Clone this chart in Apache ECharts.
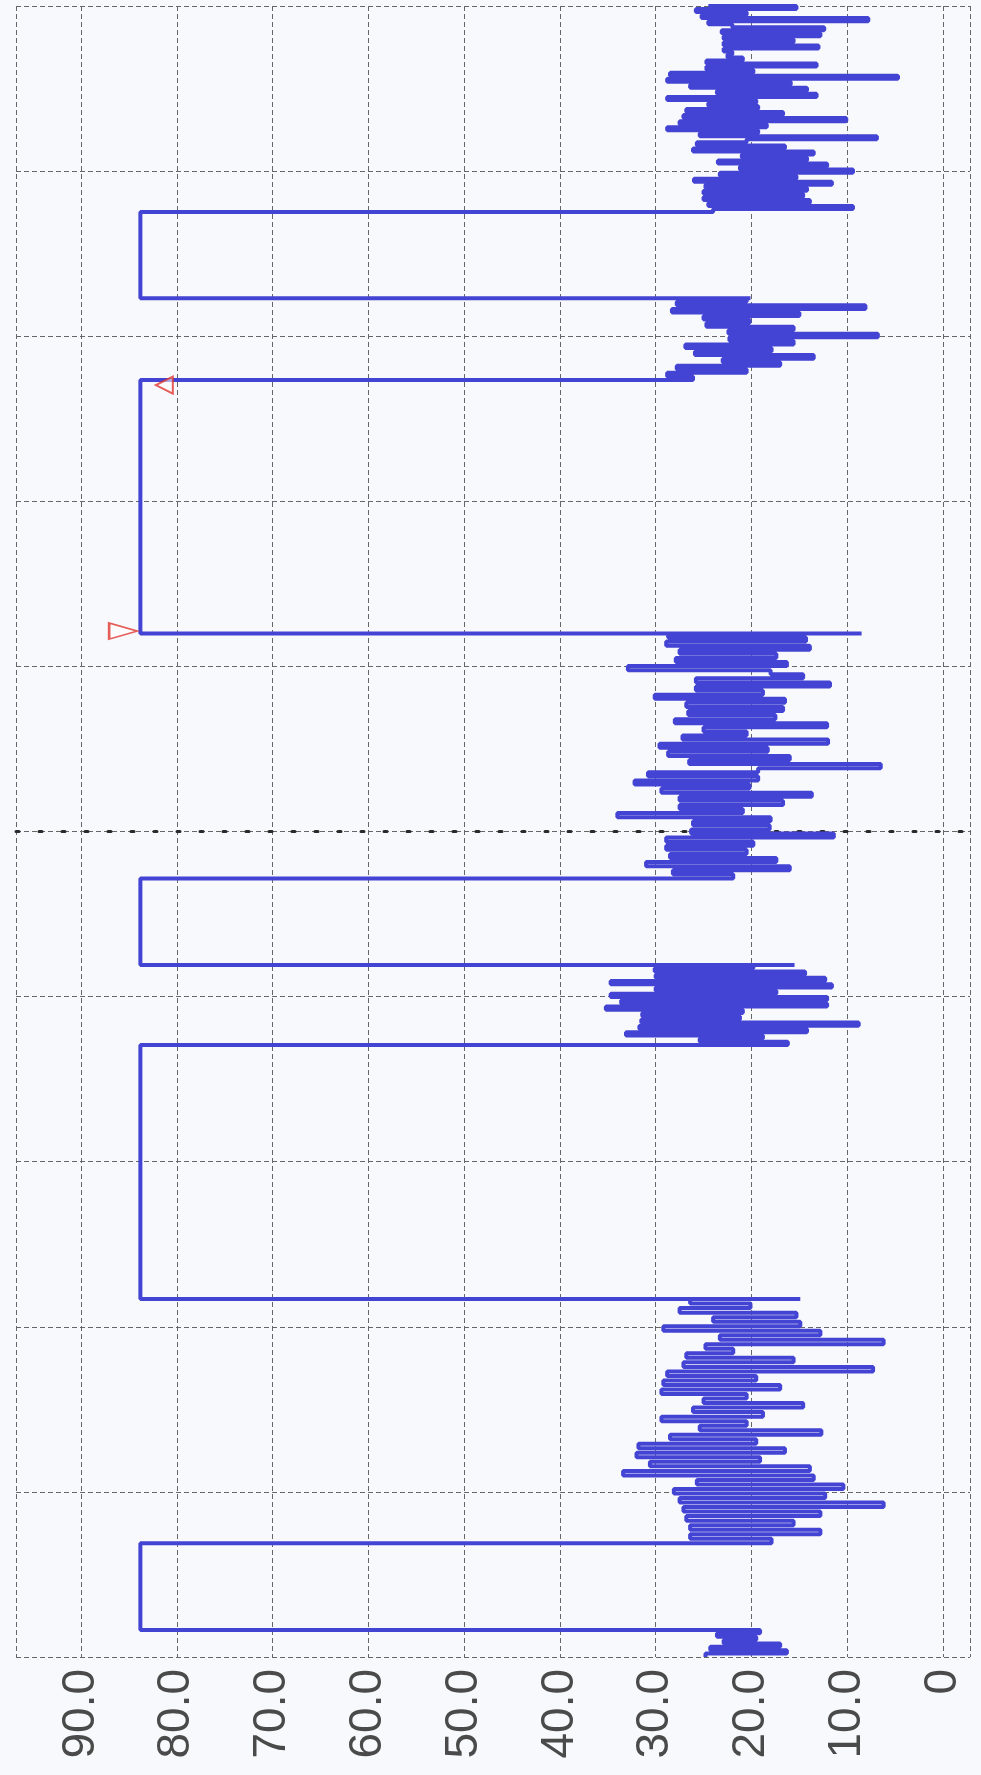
<!DOCTYPE html>
<html>
<head>
<meta charset="utf-8">
<script src="https://cdn.jsdelivr.net/npm/echarts@6/dist/echarts.min.js"></script>
<style>
  html, body { margin: 0; padding: 0; background: #f8f9fc; }
  #chart { width: 981px; height: 1775px; }
</style>
</head>
<body>
<div id="chart"></div>
<script>
// Value axis ticks and their printed labels
const tickValues = [0, 10, 20, 30, 40, 50, 60, 70, 80, 90];
const tickLabels = ['0', '10.0', '20.0', '30.0', '40.0', '50.0', '60.0', '70.0', '80.0', '90.0'];

// Record runs over 0 … 1000 time units; bursts of fluctuation alternate with held levels
const burstStart = [0, 68.9, 370.7, 471.6, 773.5, 875.2];
const burstEnd   = [16.4, 216.8, 419.1, 620.0, 823.0, 1000];
const holdLevel  = [83.8, 83.8, 83.8, 83.8, 83.8];

// Samples inside each burst, in time order
const burst0 = [24.8, 16.3, 24.3, 17.0, 22.9, 19.5, 23.6, 19.1, 25.7];
const burst1 = [17.9, 26.4, 12.8, 26.4, 15.6, 26.8, 12.8, 27.1, 6.2, 27.5, 12.3, 28.1, 10.4, 25.7, 13.5,
                33.4, 13.9, 30.6, 19.1, 32.0, 16.5, 31.8, 19.5, 28.5, 12.7, 25.4, 20.5, 29.4, 18.8, 26.1,
                14.6, 25.0, 20.5, 29.4, 17.0, 29.2, 19.5, 28.8, 7.3, 27.1, 15.6, 26.8, 21.9, 24.8, 6.2,
                23.3, 12.8, 29.2, 14.9, 24.0, 15.3, 27.5, 20.1, 26.4, 14.9];
const burst2 = [16.2, 25.4, 18.8, 33.1, 14.2, 31.7, 8.8, 31.5, 21.2, 31.4, 20.9, 35.2, 12.1, 33.6, 12.1,
                34.7, 17.4, 30.0, 11.6, 34.7, 12.3, 30.0, 14.4, 30.1, 19.8, 15.5];
const burst3 = [21.9, 28.2, 16.0, 31.0, 17.4, 28.5, 20.5, 28.9, 19.8, 28.9, 11.4, 26.3, 18.1, 26.1, 18.0,
                34.0, 20.9, 27.5, 16.7, 27.5, 13.7, 29.4, 20.2, 32.2, 19.3, 30.8, 19.3, 6.5, 26.5, 16.0,
                28.7, 18.3, 29.6, 12.0, 27.2, 20.5, 25.0, 12.1, 28.0, 17.5, 26.6, 16.7, 26.8, 16.5, 30.1,
                18.8, 25.8, 11.8, 25.8, 14.6, 18.0, 32.9, 16.3, 27.9, 17.4, 27.5, 13.9, 28.9, 14.3, 28.7, 8.5];
const burst4 = [26.1, 28.8, 20.5, 27.8, 17.0, 23.0, 13.5, 25.9, 17.9, 26.9, 15.6, 22.3, 6.8, 22.4, 15.6,
                24.7, 20.2, 25.0, 15.0, 28.3, 8.1, 27.8, 20.5, 20.1];
const burst5 = [24.0, 9.4, 24.5, 13.9, 25.0, 14.6, 25.0, 14.2, 24.8, 11.6, 26.0, 15.3, 23.3, 9.4, 21.2,
                12.1, 23.5, 14.2, 21.0, 13.5, 26.1, 16.5, 25.7, 20.5, 6.9, 25.4, 19.3, 28.8, 18.4, 27.5,
                10.1, 27.1, 16.7, 26.8, 19.3, 24.5, 19.5, 28.8, 13.2, 23.6, 14.2, 26.4, 15.9, 28.8, 4.7,
                28.5, 19.8, 24.7, 13.2, 24.7, 20.9, 22.5, 22.0, 22.9, 13.0, 22.9, 15.6, 22.9, 12.8, 23.1,
                12.4, 22.0, 24.5, 7.8, 25.2, 20.5, 25.8, 15.3, 24.5];

// Red cursor markers at the ends of one held stretch
const markerLevels = [85.6, 81.3];
const markerTimes  = [621.4, 770.4];

// Dotted reference time
const refTime = [500];

const bursts = [burst0, burst1, burst2, burst3, burst4, burst5];
const trace = [];
bursts.forEach((b, i) => {
  const t0 = burstStart[i], t1 = burstEnd[i];
  b.forEach((v, k) => trace.push([v, t0 + (t1 - t0) * k / (b.length - 1)]));
  if (i < holdLevel.length) {
    trace.push([holdLevel[i], t1]);
    trace.push([holdLevel[i], burstStart[i + 1]]);
  }
});

const gridLine = { show: true, lineStyle: { color: '#666666', width: 1, type: [5, 3] } };

const chart = echarts.init(document.getElementById('chart'), null, { renderer: 'canvas' });
chart.setOption({
  animation: false,
  backgroundColor: '#f8f9fc',
  grid: [
    { left: 16, right: 11, top: 6, bottom: 118 },   // outer frame
    { left: 81, right: 38, top: 6, bottom: 118 }    // 0 … 90 value span
  ],
  xAxis: [
    {
      gridIndex: 0, type: 'value', min: 0, max: 1, interval: 1,
      axisLine: { show: false }, axisTick: { show: false }, axisLabel: { show: false },
      splitLine: gridLine
    },
    {
      gridIndex: 1, type: 'value', inverse: true, min: 0, max: 90, interval: 10,
      axisLine: { show: false }, axisTick: { show: false },
      axisLabel: {
        rotate: 90, margin: 12, fontSize: 46, color: '#4a4a4a',
        fontFamily: 'Liberation Sans',
        formatter: v => tickLabels[tickValues.indexOf(v)]
      },
      splitLine: gridLine
    }
  ],
  yAxis: [
    {
      gridIndex: 0, type: 'value', min: 0, max: 1000, interval: 100,
      axisLine: { show: false }, axisTick: { show: false }, axisLabel: { show: false },
      splitLine: gridLine
    },
    {
      gridIndex: 1, type: 'value', min: 0, max: 1000, show: false,
      splitLine: { show: false }
    }
  ],
  series: [
    {
      type: 'line', xAxisIndex: 0, yAxisIndex: 0, symbol: 'none', silent: true,
      data: [[0, refTime[0]], [1, refTime[0]]],
      lineStyle: { color: '#2a2a2a', width: 3, type: [3, 20], cap: 'round' },
      z: 2
    },
    {
      type: 'line', xAxisIndex: 1, yAxisIndex: 1, symbol: 'none', showSymbol: false,
      step: 'start',
      data: trace,
      lineStyle: { color: '#4444d4', width: 4 },
      z: 3
    },
    {
      type: 'scatter', xAxisIndex: 1, yAxisIndex: 1,
      data: [
        { value: [markerLevels[0], markerTimes[0]], symbolRotate: -90, symbolSize: [16, 28] },
        { value: [markerLevels[1], markerTimes[1]], symbolRotate: 90, symbolSize: [17, 17] }
      ],
      symbol: 'triangle',
      itemStyle: { color: 'rgba(255,255,255,0.7)', borderColor: '#e0342c', borderWidth: 2 },
      z: 4
    }
  ]
});
</script>
</body>
</html>
